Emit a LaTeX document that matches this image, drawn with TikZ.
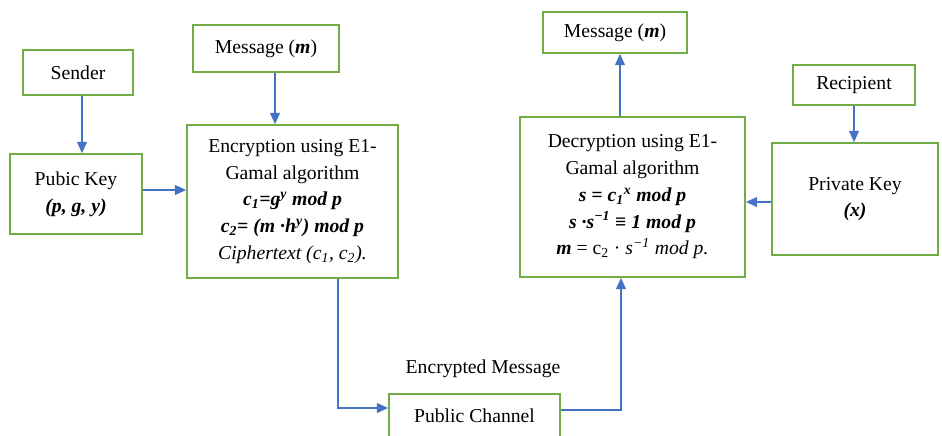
\documentclass[tikz,border=0pt]{standalone}
\usepackage{fontspec}
\setmainfont{Liberation Serif}
\usepackage{tikz}
\usetikzlibrary{arrows.meta,calc,positioning}

\definecolor{boxgreen}{HTML}{70AD47}
\definecolor{arrowblue}{HTML}{4472C4}

\begin{document}
\begin{tikzpicture}[x=0.025cm, y=-0.025cm,
        box/.style={draw=boxgreen, line width=1.2pt, fill=white, align=center, inner sep=2pt},
        pfeil/.style={draw=arrowblue, line width=1pt, -{Triangle[length=8pt,width=7pt]}},
        every node/.style={font=\fontsize{14}{19}\selectfont}]
        % Umgebung
        \useasboundingbox (0,0) rectangle (942,435);

        % Sender
        \node[box, minimum width=2.75cm, minimum height=1.125cm] (sender) at (78,72.5) {Sender};
        \node[box, minimum width=3.3cm, minimum height=2cm] (pubkey) at (76,194) {Pubic Key\\\textbf{\textit{(p, g, y)}}};
        \node[box, minimum width=3.65cm, minimum height=1.175cm] (msgin) at (266,48.5) {Message (\textbf{\textit{m}})};

        % Verschluesselung
        \node[box, minimum width=5.275cm, minimum height=3.825cm] (enc) at (292.5,201.5) {Encryption using E1-\\Gamal algorithm\\
            \textbf{\textit{c\textsubscript{1}=g\textsuperscript{y} mod p}}\\
            \textbf{\textit{c\textsubscript{2}= (m ·h\textsuperscript{y}) mod p}}\\
            \textit{Ciphertext (c\textsubscript{1}, c\textsubscript{2}).}};

        % Kanal
        \node[box, minimum width=4.275cm, minimum height=1.1cm] (chan) at (474.5,416) {Public Channel};
        \node (encmsg) at (483,369) {Encrypted Message};

        % Empfaenger
        \node[box, minimum width=3.05cm, minimum height=1cm] (recip) at (854,85) {Recipient};
        \node[box, minimum width=4.15cm, minimum height=2.8cm] (privkey) at (855,199) {Private Key\\\textbf{\textit{(x)}}};
        \node[box, minimum width=3.6cm, minimum height=1.025cm] (msgout) at (615,32.5) {Message (\textbf{\textit{m}})};

        % Entschluesselung
        \node[box, minimum width=5.625cm, minimum height=4cm] (dec) at (632.5,197) {Decryption using E1-\\Gamal algorithm\\
            \textbf{\textit{s = c\textsubscript{1}\textsuperscript{x} mod p}}\\
            \textbf{\textit{s ·s\textsuperscript{−1} ≡ 1 mod p}}\\
            \textbf{\textit{m}} = c\textsubscript{2} · \textit{s\textsuperscript{−1} mod p.}};

        % Hilfspunkte
        \coordinate (senderout) at ($(sender.south)+(4,0)$);
        \coordinate (pubout) at ($(pubkey.east)+(0,-4)$);
        \coordinate (msgout0) at ($(msgin.south)+(9,0)$);
        \coordinate (encout) at ($(enc.south)+(45.5,0)$);
        \coordinate (chanin) at ($(chan.west)+(0,-8)$);
        \coordinate (chanout) at ($(chan.east)+(0,-6)$);
        \coordinate (decin) at ($(dec.south)+(-11.5,0)$);
        \coordinate (decout) at ($(dec.north)+(-12.5,0)$);
        \coordinate (privout) at ($(privkey.west)+(0,3)$);

        % Pfeile
        \draw[pfeil] (senderout) -- (senderout |- pubkey.north);
        \draw[pfeil] (pubout) -- (pubout -| enc.west);
        \draw[pfeil] (msgout0) -- (msgout0 |- enc.north);
        \draw[pfeil] (encout) |- (chanin);
        \draw[pfeil] (chanout) -| (decin);
        \draw[pfeil] (decout) -- (decout |- msgout.south);
        \draw[pfeil] (recip.south) -- (recip.south |- privkey.north);
        \draw[pfeil] (privout) -- (privout -| dec.east);

    \end{tikzpicture}
\end{document}
